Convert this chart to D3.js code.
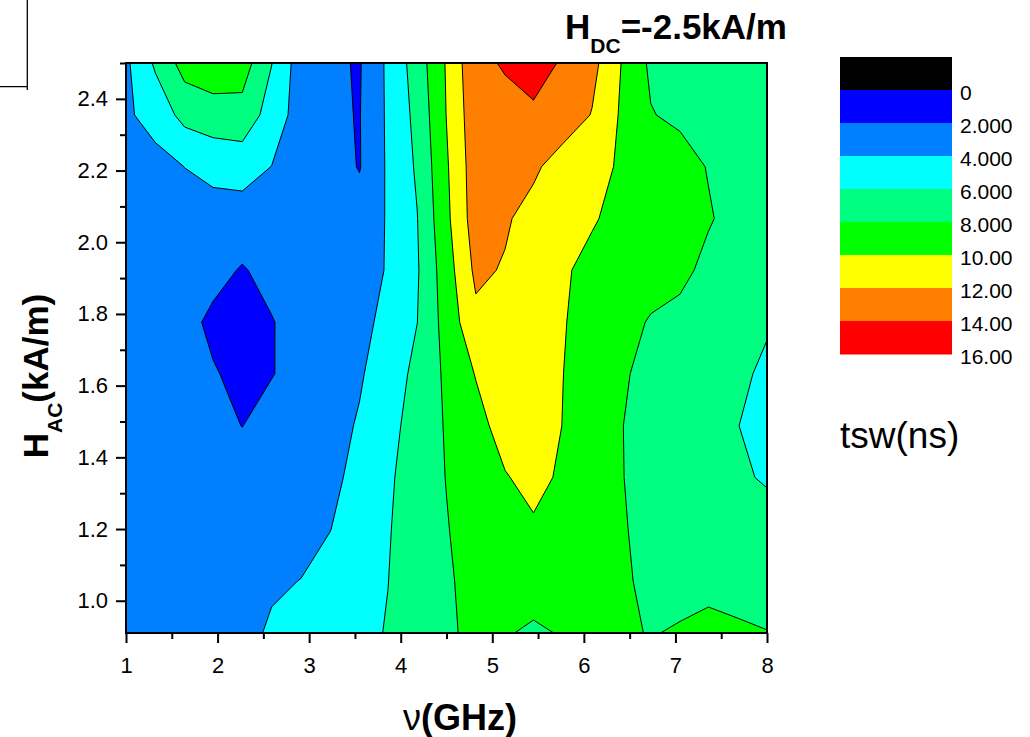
<!DOCTYPE html>
<html>
<head>
<meta charset="utf-8">
<script src="https://cdn.jsdelivr.net/npm/d3@7"></script>
<style>
  body { margin: 0; background: #fff; }
  svg { display: block; font-family: Arial, "Liberation Sans", sans-serif; }
</style>
</head>
<body>
<svg id="chart" width="1030" height="737"></svg>
<script>
// grid nodes: frequency (GHz), left to right
const freqNodes = [1.00, 1.32, 1.64, 1.95, 2.27, 2.59, 2.91, 3.23, 3.55, 3.86, 4.18, 4.50,
  4.82, 5.14, 5.45, 5.77, 6.09, 6.41, 6.73, 7.05, 7.36, 7.68, 8.00];
// grid nodes: H_AC (kA/m), top to bottom
const hacNodes = [2.500, 2.355, 2.211, 2.066, 1.922, 1.777, 1.633, 1.488, 1.344, 1.199, 1.055, 0.910];

// tsw (ns), one row per H_AC node
const tswRows = [
  [3.64, 6.28, 8.80, 9.30, 8.95, 6.05, 2.98, 2.33, 1.85, 4.35, 6.93, 10.17, 13.6, 14.15, 15.0, 13.74, 12.61, 9.97, 7.65, 7.3, 7.1, 7.0, 7.0],
  [3.67, 4.80, 6.60, 7.10, 7.28, 5.15, 3.10, 2.30, 1.92, 4.30, 6.55, 10.05, 13.29, 13.5, 13.6, 13.3, 11.9, 9.76, 8.1, 7.58, 7.3, 7.1, 7.0],
  [3.50, 3.30, 4.02, 4.60, 4.80, 3.98, 3.30, 2.84, 1.90, 4.26, 6.25, 9.77, 13.1, 13.0, 12.4, 10.96, 10.6, 9.78, 9.3, 8.9, 7.88, 7.3, 7.1],
  [3.30, 3.30, 3.20, 3.10, 3.10, 3.20, 3.20, 3.00, 2.73, 4.16, 5.95, 9.56, 13.0, 12.26, 11.2, 10.9, 10.3, 9.02, 9.3, 9.2, 8.2, 7.2, 7.0],
  [3.20, 3.10, 2.90, 2.60, 1.85, 2.60, 3.00, 3.20, 3.50, 4.08, 5.81, 9.10, 12.42, 11.82, 11.0, 10.4, 9.1, 9.3, 9.2, 8.6, 7.39, 7.0, 6.7],
  [3.20, 3.10, 2.60, 1.60, 1.30, 1.90, 2.78, 3.10, 3.50, 4.48, 5.98, 8.77, 11.5, 11.5, 11.1, 10.15, 9.05, 9.0, 7.77, 7.3, 7.0, 6.6, 6.2],
  [3.30, 3.20, 2.90, 2.15, 1.50, 1.90, 2.80, 3.30, 3.85, 4.74, 6.60, 8.33, 10.1, 10.9, 11.0, 10.02, 9.2, 8.4, 7.06, 7.0, 6.8, 6.4, 5.63],
  [3.30, 3.30, 3.10, 2.60, 1.97, 2.90, 3.20, 3.50, 4.13, 5.43, 6.73, 8.17, 9.3, 10.83, 10.9, 9.97, 9.0, 8.05, 7.3, 7.0, 6.6, 6.03, 5.4],
  [3.40, 3.40, 3.30, 3.20, 3.00, 3.10, 3.40, 3.70, 4.37, 5.69, 7.00, 8.05, 9.2, 9.87, 10.6, 9.69, 9.2, 8.1, 7.02, 6.9, 6.7, 6.4, 5.72],
  [3.50, 3.50, 3.40, 3.40, 3.30, 3.40, 3.60, 3.97, 4.92, 5.88, 6.89, 7.91, 8.8, 9.3, 9.72, 9.4, 9.0, 8.2, 7.33, 7.0, 6.9, 6.9, 7.1],
  [3.50, 3.50, 3.50, 3.60, 3.70, 3.85, 4.02, 4.66, 5.32, 5.98, 6.87, 7.77, 8.6, 9.0, 9.2, 9.1, 8.8, 8.4, 7.4, 7.3, 7.2, 7.0, 6.6],
  [3.50, 3.50, 3.50, 3.60, 3.66, 4.15, 4.63, 5.12, 5.60, 6.09, 6.92, 7.69, 8.47, 8.2, 7.6, 8.18, 8.6, 8.3, 7.9, 8.2, 8.8, 8.4, 8.09]
];

// contour levels and fill of each band [level, level + 2)
const levels = [0, 2, 4, 6, 8, 10, 12, 14];
const bandColors = ["#0000ff", "#0080ff", "#00ffff", "#00ff80", "#00ff00", "#ffff00", "#ff8000", "#ff0000"];

// colour scale legend (black box = below 0)
const legendColors = ["#000000", ...bandColors];
const legendLabels = ["0", "2.000", "4.000", "6.000", "8.000", "10.00", "12.00", "14.00", "16.00"];

const xTicks = [1, 2, 3, 4, 5, 6, 7, 8];
const xMinorTicks = [1.5, 2.5, 3.5, 4.5, 5.5, 6.5, 7.5];
const yTicks = [1.0, 1.2, 1.4, 1.6, 1.8, 2.0, 2.2, 2.4];
const yMinorTicks = [1.1, 1.3, 1.5, 1.7, 1.9, 2.1, 2.3, 2.5];

const plot = { left: 126, right: 767, top: 63, bottom: 633 };

const svg = d3.select("#chart");

const x = d3.scaleLinear().domain([1, 8]).range([plot.left, plot.right]);
const y = d3.scaleLinear().domain([0.91, 2.5]).range([plot.bottom, plot.top]);

// grid index -> data value (piecewise linear through the nodes)
const nx = freqNodes.length, ny = hacNodes.length;
const colToFreq = d3.scaleLinear().domain(d3.range(nx)).range(freqNodes);
const rowToH = d3.scaleLinear().domain(d3.range(ny)).range(hacNodes);

const toScreen = d3.geoTransform({
  point(cx, cy) {
    const ix = Math.max(0, Math.min(nx - 1, cx - 0.5));
    const iy = Math.max(0, Math.min(ny - 1, cy - 0.5));
    this.stream.point(x(colToFreq(ix)), y(rowToH(iy)));
  }
});
const path = d3.geoPath(toScreen);

const bands = d3.contours().size([nx, ny]).thresholds(levels)(tswRows.flat());

// filled contour bands with black lines
svg.append("g")
  .selectAll("path.band")
  .data(bands)
  .join("path")
  .attr("class", "band")
  .attr("d", path)
  .attr("fill", (d, i) => bandColors[i])
  .attr("stroke", "#000")
  .attr("stroke-width", 1)
  .attr("stroke-linejoin", "round");

// axes
const gx = svg.append("g").attr("transform", `translate(0,${plot.bottom})`);
gx.call(d3.axisBottom(x).tickValues(xTicks).tickFormat(d3.format("d")).tickSize(10).tickPadding(14));
gx.append("g").call(d3.axisBottom(x).tickValues(xMinorTicks).tickFormat("").tickSize(6));

const gy = svg.append("g").attr("transform", `translate(${plot.left},0)`);
gy.call(d3.axisLeft(y).tickValues(yTicks).tickFormat(d3.format(".1f")).tickSize(10).tickPadding(8));
gy.append("g").call(d3.axisLeft(y).tickValues(yMinorTicks).tickFormat("").tickSize(6));

svg.selectAll(".domain").remove();
svg.selectAll(".tick line").attr("stroke", "#000").attr("stroke-width", 2);
gx.attr("font-size", 22).attr("font-family", null);
gy.attr("font-size", 22).attr("font-family", null);
svg.selectAll(".tick text").attr("fill", "#000");

// plot frame
svg.append("rect")
  .attr("x", plot.left).attr("y", plot.top)
  .attr("width", plot.right - plot.left).attr("height", plot.bottom - plot.top)
  .attr("fill", "none").attr("stroke", "#000").attr("stroke-width", 2);

// title
const title = svg.append("text")
  .attr("x", 565).attr("y", 39)
  .attr("font-size", 35).attr("font-weight", "bold");
title.append("tspan").text("H");
title.append("tspan").attr("font-size", 21).attr("dy", 14).text("DC");
title.append("tspan").attr("dy", -14).text("=-2.5kA/m");

// x label
const xl = svg.append("text")
  .attr("x", 460).attr("y", 730)
  .attr("text-anchor", "middle")
  .attr("font-size", 36).attr("font-weight", "bold");
xl.append("tspan").attr("font-weight", "normal").text("ν");
xl.append("tspan").text("(GHz)");

// y label
const yl = svg.append("text")
  .attr("transform", "translate(48,376) rotate(-90)")
  .attr("text-anchor", "middle")
  .attr("font-size", 35).attr("font-weight", "bold");
yl.append("tspan").text("H");
yl.append("tspan").attr("font-size", 21).attr("dy", 14).text("AC");
yl.append("tspan").attr("dy", -14).text("(kA/m)");

// legend
const legend = { x: 840, y: 57, w: 112, h: 33 };
const gl = svg.append("g");
gl.selectAll("rect")
  .data(legendColors)
  .join("rect")
  .attr("x", legend.x)
  .attr("y", (d, i) => legend.y + i * legend.h)
  .attr("width", legend.w)
  .attr("height", legend.h + 0.5)
  .attr("fill", (d) => d);
gl.selectAll("text")
  .data(legendLabels)
  .join("text")
  .attr("x", 960)
  .attr("y", (d, i) => legend.y + (i + 1) * legend.h + 10)
  .attr("font-size", 21)
  .text((d) => d);

svg.append("text")
  .attr("x", 840).attr("y", 448)
  .attr("font-size", 37)
  .text("tsw(ns)");

// leftover frame corner at top left
svg.append("path")
  .attr("d", "M27.3,0V90M0,86.7H27.3")
  .attr("fill", "none").attr("stroke", "#000").attr("stroke-width", 1.3);
</script>
</body>
</html>
